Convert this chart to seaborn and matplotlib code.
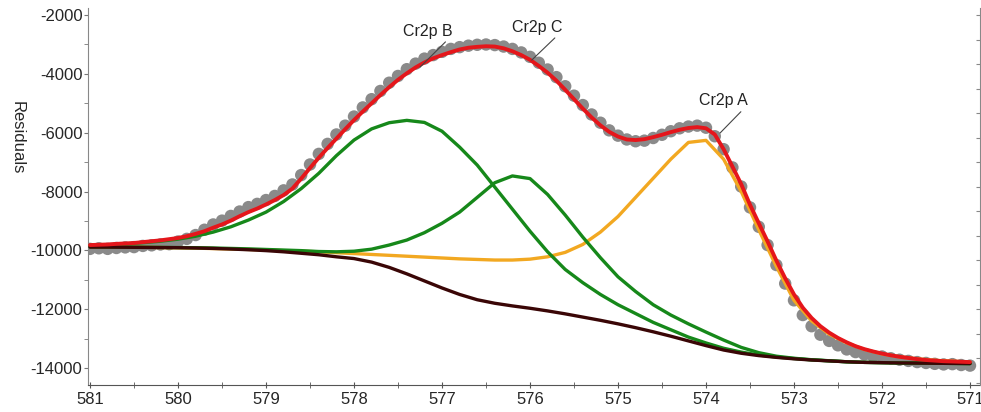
import numpy as np
import pandas as pd
import matplotlib
matplotlib.use("Agg")
import matplotlib.pyplot as plt
from matplotlib.ticker import MultipleLocator
import seaborn as sns

sns.set_style("ticks")
plt.rcParams.update({
    "font.family": ["Liberation Sans", "DejaVu Sans"],
    "font.size": 12,
    "axes.unicode_minus": False,
})

# binding energy (eV), measured points every 0.1 eV
energy_pts = np.round(np.arange(581.0, 570.95, -0.1), 1)
counts = [
    -9950, -9930, -9950, -9920, -9900, -9890, -9850, -9830, -9800, -9790,
    -9700, -9610, -9480, -9300, -9120, -8990, -8830, -8680, -8530, -8420,
    -8290, -8150, -7960, -7760, -7440, -7080, -6720, -6380, -6060, -5760,
    -5450, -5140, -4860, -4580, -4300, -4070, -3840, -3650, -3480, -3360,
    -3250, -3150, -3090, -3040, -3010, -3000, -3020, -3070, -3150, -3270,
    -3420, -3620, -3850, -4110, -4420, -4740, -5060, -5380, -5660, -5920,
    -6100, -6230, -6290, -6270, -6180, -6070, -5950, -5850, -5790, -5760,
    -5830, -6120, -6560, -7180, -7830, -8540, -9200, -9820, -10500, -11130,
    -11700, -12200, -12580, -12870, -13080, -13230, -13370, -13460, -13540, -13600,
    -13610, -13670, -13720, -13760, -13800, -13830, -13860, -13880, -13870, -13900,
    -13920,
]
envelope = [
    -9820, -9810, -9800, -9780, -9765, -9750, -9720, -9690, -9660, -9620,
    -9580, -9520, -9440, -9350, -9230, -9120, -8990, -8840, -8700, -8580,
    -8440, -8290, -8120, -7900, -7560, -7200, -6850, -6520, -6200, -5880,
    -5570, -5280, -5000, -4720, -4450, -4200, -3980, -3780, -3610, -3470,
    -3360, -3260, -3170, -3110, -3080, -3060, -3070, -3130, -3230, -3360,
    -3520, -3730, -3960, -4230, -4540, -4860, -5180, -5480, -5750, -5970,
    -6130, -6230, -6250, -6220, -6150, -6070, -5980, -5900, -5840, -5810,
    -5850, -6060, -6560, -7150, -7750, -8450, -9080, -9700, -10350, -10950,
    -11500, -11950, -12300, -12580, -12800, -12980, -13130, -13260, -13360, -13440,
    -13510, -13570, -13620, -13660, -13700, -13730, -13750, -13770, -13780, -13790,
    -13800,
]

# components every 0.2 eV
energy_cmp = np.round(np.arange(581.0, 570.95, -0.2), 1)
background = [
    -9890, -9890, -9895, -9900, -9905, -9910, -9920, -9935, -9955, -9980,
    -10010, -10050, -10100, -10150, -10220, -10280, -10400, -10580, -10800, -11040,
    -11280, -11500, -11680, -11800, -11890, -11970, -12060, -12160, -12270, -12380,
    -12500, -12630, -12770, -12920, -13080, -13240, -13390, -13500, -13580, -13640,
    -13690, -13730, -13760, -13790, -13810, -13820, -13830, -13835, -13840, -13845,
    -13850,
]
peak_b = [
    -9830, -9810, -9780, -9740, -9690, -9620, -9520, -9380, -9200, -8970,
    -8700, -8340, -7900, -7380, -6780, -6250, -5870, -5660, -5580, -5650,
    -5950, -6490, -7100, -7850, -8600, -9350, -10050, -10650, -11100, -11500,
    -11850, -12150, -12450, -12700, -12950, -13150, -13330, -13460, -13560, -13630,
    -13680, -13725, -13758, -13790, -13810, -13820, -13830, -13835, -13840, -13845,
    -13850,
]
peak_c = [
    -9880, -9885, -9890, -9895, -9900, -9905, -9910, -9920, -9935, -9950,
    -9970, -9990, -10010, -10040, -10050, -10030, -9960, -9820, -9650, -9400,
    -9080, -8700, -8200, -7700, -7470, -7560, -8100, -8800, -9550, -10250,
    -10900, -11400, -11850, -12200, -12500, -12780, -13050, -13300, -13480, -13600,
    -13670, -13720, -13755, -13790, -13810, -13820, -13830, -13835, -13840, -13845,
    -13850,
]
peak_a = [
    -9880, -9885, -9890, -9895, -9905, -9915, -9925, -9940, -9955, -9970,
    -9990, -10010, -10030, -10050, -10080, -10110, -10140, -10170, -10200, -10230,
    -10260, -10290, -10310, -10330, -10330, -10300, -10220, -10070, -9800, -9380,
    -8850, -8200, -7550, -6900, -6330, -6260, -6900, -8000, -9300, -10550,
    -11700, -12400, -12850, -13150, -13370, -13520, -13620, -13690, -13740, -13770,
    -13800,
]

# label, text position, point on curve
labels = ["Cr2p B", "Cr2p C", "Cr2p A"]
label_text_xy = [(577.16, -2545), (575.92, -2410), (573.80, -4920)]
label_point_xy = [(577.25, -3770), (575.98, -3530), (573.84, -6010)]

pts = pd.DataFrame({"energy": energy_pts, "counts": counts, "fit": envelope})
cmp = pd.DataFrame({"energy": energy_cmp, "bg": background,
                    "B": peak_b, "C": peak_c, "A": peak_a})

fig = plt.figure(figsize=(9.81, 4.12), dpi=100)
ax = fig.add_axes([0.0897, 0.0655, 0.9093, 0.915])

sns.scatterplot(data=pts, x="energy", y="counts", color="#8a8a8a",
                s=80, edgecolor="none", ax=ax, zorder=1)
sns.lineplot(data=cmp, x="energy", y="A", color="#f2a821", lw=2.4,
             sort=False, ax=ax, zorder=2)
sns.lineplot(data=cmp, x="energy", y="B", color="#16881a", lw=2.4,
             sort=False, ax=ax, zorder=3)
sns.lineplot(data=cmp, x="energy", y="C", color="#16881a", lw=2.4,
             sort=False, ax=ax, zorder=3)
sns.lineplot(data=cmp, x="energy", y="bg", color="#3a0606", lw=2.4,
             sort=False, ax=ax, zorder=4)
sns.lineplot(data=pts, x="energy", y="fit", color="#e5161b", lw=2.8,
             sort=False, ax=ax, zorder=5)

for lab, txy, pxy in zip(labels, label_text_xy, label_point_xy):
    ax.annotate(lab, xy=pxy, xytext=txy, ha="center", va="center",
                fontsize=11.5, color="#222222", zorder=6,
                arrowprops=dict(arrowstyle="-", color="#444444", lw=0.8,
                                shrinkA=0, shrinkB=0, relpos=(0.92, 0.0)))

ax.set_xlim(581.023, 570.886)
ax.set_ylim(-14580, -1760)
ax.xaxis.set_major_locator(MultipleLocator(1))
ax.xaxis.set_minor_locator(MultipleLocator(0.5))
ax.yaxis.set_major_locator(MultipleLocator(2000))
ax.yaxis.set_minor_locator(MultipleLocator(1000))
ax.tick_params(axis="x", which="both", direction="inout", length=4,
               color="#555555", labelsize=12, pad=3)
ax.tick_params(axis="y", which="both", direction="out", length=3,
               color="#777777", labelsize=12, pad=1)
ax.set_xlabel("")
ax.set_ylabel("Residuals", rotation=270, fontsize=12, labelpad=0)
ax.yaxis.set_label_coords(-0.088, 0.655)

ax.spines["top"].set_visible(False)
ax.spines["left"].set_color("#888888")
ax.spines["bottom"].set_color("#555555")
ax.spines["right"].set_visible(False)

# unlabeled right-hand scale
ax2 = ax.twinx()
ax2.set_ylim(-0.1, 15.3)
ax2.yaxis.set_major_locator(MultipleLocator(1))
ax2.tick_params(axis="y", direction="in", length=3, color="#888888",
                labelright=False)
ax2.spines["top"].set_visible(False)
ax2.spines["left"].set_visible(False)
ax2.spines["bottom"].set_visible(False)
ax2.spines["right"].set_color("#888888")

fig.savefig("out.png", dpi=100)
